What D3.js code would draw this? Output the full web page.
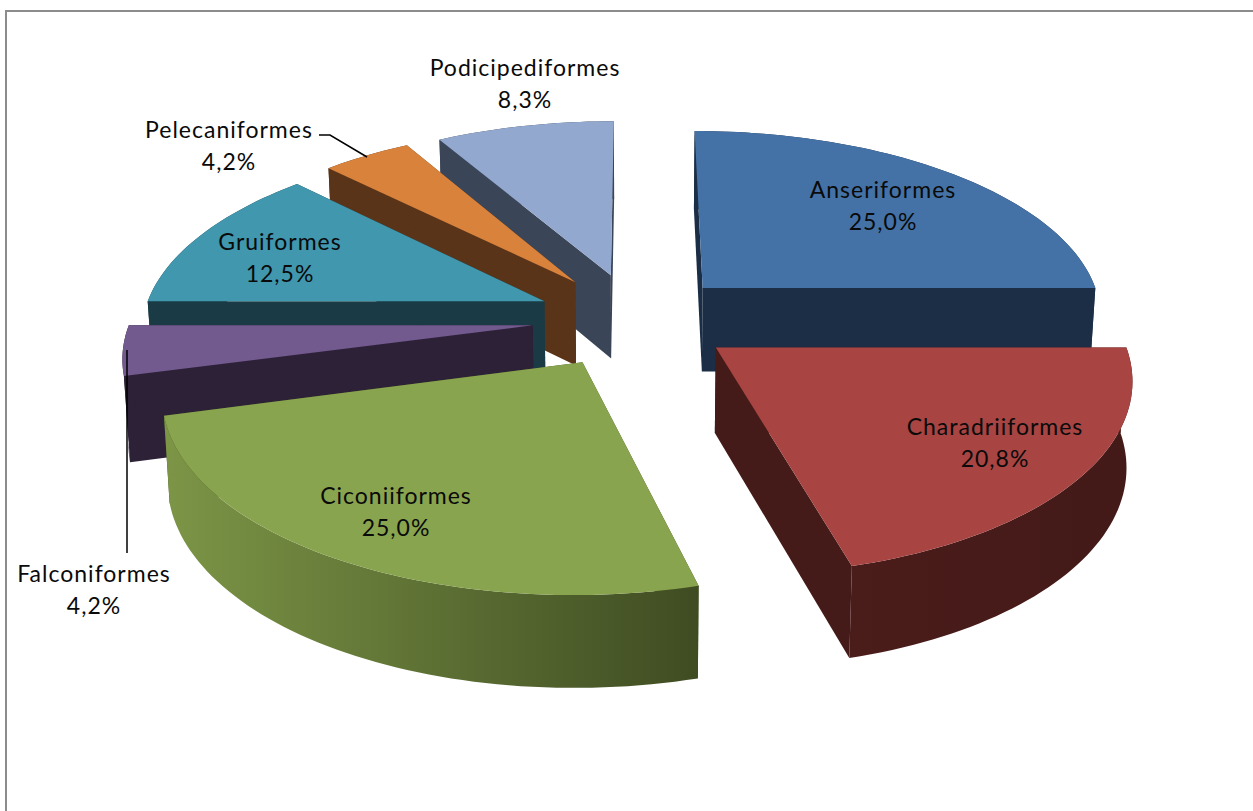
<!DOCTYPE html>
<html lang="en"><head>
<meta charset="utf-8">
<title>orders pie</title>
<script src="https://cdn.jsdelivr.net/npm/d3@7/dist/d3.min.js"></script>
<style>
  html, body { margin: 0; padding: 0; background: #fff; overflow: hidden; }
  text { font-family: Lato, "Open Sans", sans-serif; font-size: 23px; letter-spacing: 1px; fill: #0a0a0a; }
</style>
</head>
<body>
<svg width="1253" height="811"></svg>
<script>
// values
var orders = ["Anseriformes", "Charadriiformes", "Ciconiiformes", "Falconiformes", "Gruiformes", "Pelecaniformes", "Podicipediformes"];
var counts = [6, 5, 6, 1, 3, 1, 2];

// per slice explosion and colours
var explode = [0.24, 0.245, 0.258, 0.258, 0.25, 0.255, 0.25];
var topColor = ["#4472a6", "#a84442", "#89a44e", "#72598e", "#4097ae", "#d9823c", "#93a8cf"];
var wallColor = ["#1b2e46", "#451b19", "#3f4c22", "#2d2137", "#1a3b45", "#5a3418", "#3a4557"];
var rimLeft = ["#1b2e46", "#4a1c1a", "#7c9546", "#2d2137", "#1a3b45", "#5a3418", "#3a4557"];
var rimRight = ["#1b2e46", "#431a18", "#3f4c22", "#2d2137", "#1a3b45", "#5a3418", "#3a4557"];

// label placement, text centre + first baseline
var labelX = [883, 995, 396, 94, 280, 229, 525];
var labelY = [198, 435, 504, 582, 250, 138, 76];

var svg = d3.select("svg");

// chart frame, only top and left show in the window
svg.append("path")
    .attr("d", d3.line()([[6, 811], [6, 11], [1253, 11]]))
    .attr("fill", "none")
    .attr("stroke", "#8c8c8c")
    .attr("stroke-width", 2);

// perspective of the disc: x,y in radius units, y points away from the viewer
var cx = 636, cy = 319, rx = 402, ry = 187, persp = 0.14, depth = 84.5, shrink = 0.988;

function project(x, y) {
  var w = 1 + persp * y;
  return { x: cx + rx * x / w, y: cy - ry * y / w, w: w };
}
function lower(p) {
  return [cx + (p.x - cx) * shrink, p.y + depth / Math.sqrt(p.w)];
}

var pie = d3.pie().sort(null).value(function(d) { return d; });
var arcs = pie(counts).map(function(a, i) {
  var mid = (a.startAngle + a.endAngle) / 2;
  a.i = i;
  a.x0 = explode[i] * Math.sin(mid);
  a.y0 = explode[i] * Math.cos(mid);
  a.depthKey = Math.cos(mid);
  return a;
});

function rimPoints(a) {
  var n = Math.ceil((a.endAngle - a.startAngle) * 40), pts = [];
  d3.range(n + 1).forEach(function(k) {
    var t = a.startAngle + (a.endAngle - a.startAngle) * k / n;
    pts.push(project(a.x0 + Math.sin(t), a.y0 + Math.cos(t)));
  });
  return pts;
}

var line = d3.line().x(function(d) { return d[0]; }).y(function(d) { return d[1]; });
var xy = function(p) { return [p.x, p.y]; };
var defs = svg.append("defs");
var pieG = svg.append("g");

// painter order, back slices first
arcs.slice().sort(function(a, b) { return b.depthKey - a.depthKey; }).forEach(function(a) {
  var i = a.i, g = pieG.append("g");
  var apex = project(a.x0, a.y0), rim = rimPoints(a);
  var first = rim[0], last = rim[rim.length - 1];

  [first, last].forEach(function(edge) {
    g.append("path")
        .attr("d", line([xy(apex), xy(edge), lower(edge), lower(apex)]) + "Z")
        .attr("fill", wallColor[i]);
  });

  var ext = d3.extent(rim, function(p) { return p.x; });
  var grad = defs.append("linearGradient")
      .attr("id", "rim" + i)
      .attr("gradientUnits", "userSpaceOnUse")
      .attr("x1", ext[0]).attr("x2", ext[1]).attr("y1", 0).attr("y2", 0);
  grad.append("stop").attr("offset", "0%").attr("stop-color", rimLeft[i]);
  grad.append("stop").attr("offset", "100%").attr("stop-color", rimRight[i]);

  g.append("path")
      .attr("d", line(rim.map(xy).concat(rim.slice().reverse().map(lower))) + "Z")
      .attr("fill", "url(#rim" + i + ")");

  g.append("path")
      .attr("d", line([xy(apex)].concat(rim.map(xy))) + "Z")
      .attr("fill", topColor[i]);
});

// leader lines
var leader = d3.line();
svg.append("path").attr("d", leader([[319, 135], [330, 135], [367, 157]]))
    .attr("fill", "none").attr("stroke", "#000").attr("stroke-width", 1.5);
svg.append("path").attr("d", leader([[127, 350], [127, 553]]))
    .attr("fill", "none").attr("stroke", "#000").attr("stroke-width", 1.5);

// labels
var total = d3.sum(counts);
var fmt = function(v) { return (v / total * 100).toFixed(1).replace(".", ",") + "%"; };
orders.forEach(function(name, i) {
  var t = svg.append("text").attr("text-anchor", "middle");
  t.append("tspan").attr("x", labelX[i]).attr("y", labelY[i]).text(name);
  t.append("tspan").attr("x", labelX[i]).attr("y", labelY[i] + 32).text(fmt(counts[i]));
});
</script>
</body>
</html>
